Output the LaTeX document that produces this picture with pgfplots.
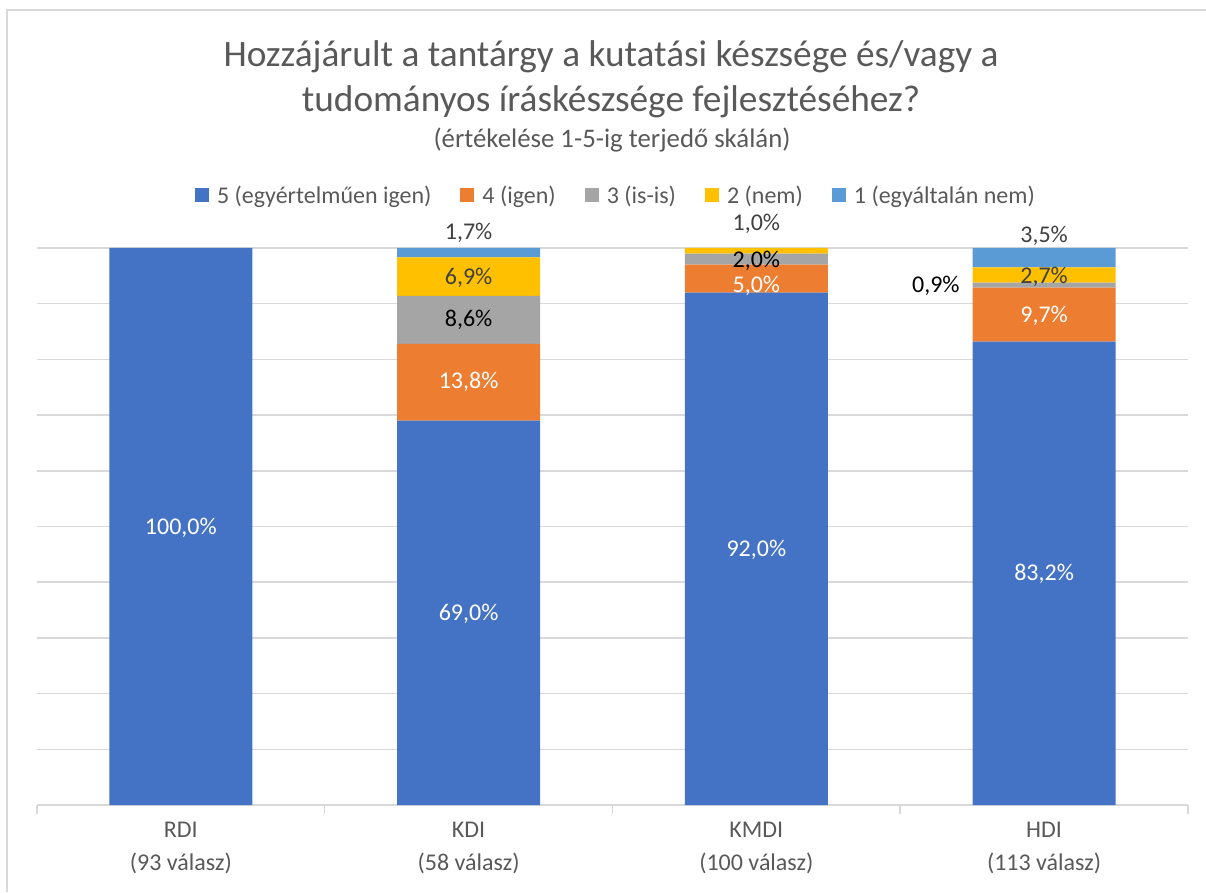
\documentclass[border=0pt]{standalone}
\usepackage{pgfplots}
\pgfplotsset{compat=1.18}
\usepackage{fontspec}
\setmainfont{Carlito}
\definecolor{cA}{HTML}{4472C4}
\definecolor{cB}{HTML}{ED7D31}
\definecolor{cC}{HTML}{A5A5A5}
\definecolor{cD}{HTML}{FFC000}
\definecolor{cE}{HTML}{5B9BD5}
\definecolor{gridc}{HTML}{D9D9D9}
\definecolor{tt}{HTML}{595959}
\definecolor{dk}{HTML}{404040}
\newcommand{\labfont}{\fontsize{24}{33}\selectfont}
\begin{document}
\begin{tikzpicture}[x=1pt,y=1pt]
\useasboundingbox (0,0) rectangle (1206,892);
\draw[gridc, line width=1.5pt] (7,0) -- (7,882) -- (1206,882);
\node[font=\fontsize{37.3}{44}\selectfont, text=tt, anchor=base] at (611,892-67) {Hozzájárult a tantárgy a kutatási készsége és/vagy a};
\node[font=\fontsize{37.3}{44}\selectfont, text=tt, anchor=base] at (611,892-112) {tudományos íráskészsége fejlesztéséhez?};
\node[font=\fontsize{26.8}{32}\selectfont, text=tt, anchor=base] at (612,892-148) {(értékelése 1-5-ig terjedő skálán)};
\begin{axis}[
  scale only axis, width=1151pt, height=557pt,
  at={(37pt,87pt)}, anchor=south west,
  ybar stacked, bar width=143pt,
  xmin=-0.5, xmax=3.5, ymin=0, ymax=100,
  clip=false,
  ytick={0,10,...,100}, yticklabels={},
  ymajorgrids, grid style={color=gridc, line width=1.5pt},
  y axis line style={draw=none}, ytick style={draw=none},
  x axis line style={color=gridc, line width=1.5pt},
  hide obscured x ticks=false,
  xtick={0,1,2,3},
  xticklabels={{RDI\\(93 válasz)},{KDI\\(58 válasz)},{KMDI\\(100 válasz)},{HDI\\(113 válasz)}},
  xticklabel style={align=center, font=\labfont, text=tt, yshift=-9pt},
  xtick pos=bottom,
  major x tick style={draw=none},
  minor xtick={-0.5,0.5,1.5,2.5,3.5},
  minor x tick style={color=gridc, line width=1.5pt},
  tick align=outside, minor tick length=9pt,
  legend columns=5,
  legend style={at={(0.503,1.095)}, anchor=center, draw=none, fill=none,
    font=\labfont, text=tt, inner sep=0pt,
    /tikz/every odd column/.append style={column sep=6pt},
    /tikz/every even column/.append style={column sep=27pt}},
  legend image code/.code={\fill[#1] (0pt,-7pt) rectangle (14pt,7pt);},
  after end axis/.code={
    \node[font=\labfont, text=white] at (axis cs:0,49.7) {100,0\%};
    \node[font=\labfont, text=white] at (axis cs:1,34.3) {69,0\%};
    \node[font=\labfont, text=white] at (axis cs:1,75.9) {13,8\%};
    \node[font=\labfont, text=black] at (axis cs:1,87.1) {8,6\%};
    \node[font=\labfont, text=dk] at (axis cs:1,94.6) {6,9\%};
    \node[font=\labfont, text=dk] at (axis cs:1,102.7) {1,7\%};
    \node[font=\labfont, text=white] at (axis cs:2,45.8) {92,0\%};
    \node[font=\labfont, text=white] at (axis cs:2,93.2) {5,0\%};
    \node[font=\labfont, text=black] at (axis cs:2,97.7) {2,0\%};
    \node[font=\labfont, text=dk] at (axis cs:2,104.3) {1,0\%};
    \node[font=\labfont, text=white] at (axis cs:3,41.5) {83,2\%};
    \node[font=\labfont, text=white] at (axis cs:3,87.8) {9,7\%};
    \node[font=\labfont, text=dk] at (axis cs:3,94.8) {2,7\%};
    \node[font=\labfont, text=black] at (axis cs:2.624,93.2) {0,9\%};
    \node[font=\labfont, text=dk] at (axis cs:3,102.2) {3,5\%};
  },
]
\addplot[fill=cA, draw=none] coordinates {(0,100) (1,69.0) (2,92.0) (3,83.2)};
\addplot[fill=cB, draw=none] coordinates {(0,0) (1,13.8) (2,5.0) (3,9.7)};
\addplot[fill=cC, draw=none] coordinates {(0,0) (1,8.6) (2,2.0) (3,0.9)};
\addplot[fill=cD, draw=none] coordinates {(0,0) (1,6.9) (2,1.0) (3,2.7)};
\addplot[fill=cE, draw=none] coordinates {(0,0) (1,1.7) (2,0) (3,3.5)};
\legend{5 (egyértelműen igen),4 (igen),3 (is-is),2 (nem),1 (egyáltalán nem)}
\end{axis}
\end{tikzpicture}
\end{document}
